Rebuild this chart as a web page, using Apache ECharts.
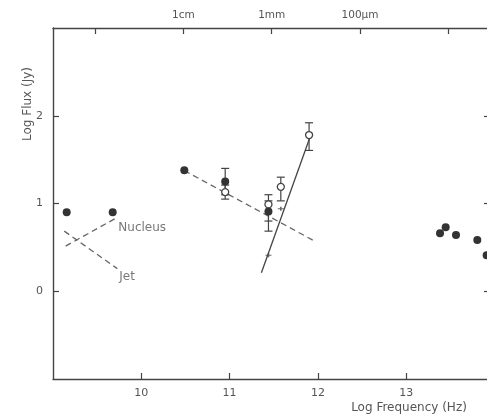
<!DOCTYPE html>
<html><head><meta charset="utf-8">
<script src="https://cdn.jsdelivr.net/npm/echarts@6/dist/echarts.min.js"></script>
<style>html,body{margin:0;padding:0;background:#fff}#c{width:487px;height:417px}</style>
</head><body><div id="c"></div>
<script>
// ---- data ----
const xTickValues = [10, 11, 12, 13];
const yTickValues = [0, 1, 2];
const wavelengthTickFreqs = [9.477, 10.477, 11.477, 12.477, 13.477];
const wavelengthLabelFreqs = [10.477, 11.477, 12.477];
const wavelengthLabels = ['1cm', '1mm', '100\u03bcm'];

const filledPoints = [[9.155, 0.90], [9.676, 0.90], [10.487, 1.378], [10.95, 1.25], [11.44, 0.91],
  [13.383, 0.66], [13.447, 0.73], [13.564, 0.64], [13.805, 0.583], [13.911, 0.41]];
const openPoints = [[10.95, 1.13], [11.44, 0.99], [11.58, 1.19], [11.90, 1.78]];
const smallPoints = [[11.58, 0.94], [11.44, 0.41]];
// [x, low, high]
const filledErrors = [[10.95, 1.10, 1.40], [11.44, 0.685, 1.03]];
const openErrors = [[10.95, 1.05, 1.21], [11.44, 0.80, 1.10], [11.58, 1.03, 1.30], [11.90, 1.605, 1.92]];

const nucleusLine = [[9.143, 0.515], [9.72, 0.837]];
const jetLine = [[9.128, 0.685], [9.728, 0.258]];
const dashedFit = [[10.487, 1.375], [11.975, 0.565]];
const solidFit = [[11.36, 0.21], [11.905, 1.74]];

const lineLabels = [{name: 'Nucleus', value: [9.74, 0.727]}, {name: 'Jet', value: [9.75, 0.163]}];

const xMin = 9, xMax = 13.915, yMin = -1, yMax = 3;

// ---- chart ----
const axisColor = '#444';
const textColor = '#555';
const font = 'DejaVu Sans';

function errRender(params, api) {
  const x = api.value(0), lo = api.value(1), hi = api.value(2);
  const a = api.coord([x, lo]), b = api.coord([x, hi]);
  const w = 4;
  const st = {stroke: '#444', lineWidth: 1.2};
  return {type: 'group', children: [
    {type: 'line', shape: {x1: a[0], y1: a[1], x2: b[0], y2: b[1]}, style: st},
    {type: 'line', shape: {x1: a[0] - w, y1: a[1], x2: a[0] + w, y2: a[1]}, style: st},
    {type: 'line', shape: {x1: b[0] - w, y1: b[1], x2: b[0] + w, y2: b[1]}, style: st}
  ]};
}

const chart = echarts.init(document.getElementById('c'), null, {renderer: 'canvas'});
const tickStyle = {show: true, inside: true, length: 6, lineStyle: {color: axisColor, width: 1.2}};
const lineStyleAxis = {show: true, onZero: false, lineStyle: {color: axisColor, width: 1.4}};

chart.setOption({
  animation: false,
  backgroundColor: '#fff',
  grid: {left: 53, top: 28, width: 434, height: 351},
  xAxis: [
    {type: 'value', position: 'bottom', min: xMin, max: xMax,
      axisLine: lineStyleAxis,
      axisTick: Object.assign({}, tickStyle, {customValues: xTickValues}),
      axisLabel: {customValues: xTickValues, color: textColor, fontFamily: font, fontSize: 11, margin: 9},
      splitLine: {show: false}},
    {type: 'value', position: 'top', min: xMin, max: xMax,
      axisLine: lineStyleAxis,
      axisTick: Object.assign({}, tickStyle, {customValues: wavelengthTickFreqs}),
      axisLabel: {customValues: wavelengthLabelFreqs, color: textColor, fontFamily: font, fontSize: 10.5, margin: 7,
        formatter: function (v) {
          for (let i = 0; i < wavelengthLabelFreqs.length; i++) {
            if (Math.abs(wavelengthLabelFreqs[i] - v) < 0.01) return wavelengthLabels[i];
          }
          return '';
        }},
      splitLine: {show: false}}
  ],
  yAxis: [
    {type: 'value', position: 'left', min: yMin, max: yMax, interval: 1,
      axisLine: lineStyleAxis,
      axisTick: Object.assign({}, tickStyle, {customValues: yTickValues}),
      axisLabel: {customValues: yTickValues, color: textColor, fontFamily: font, fontSize: 11, margin: 10},
      splitLine: {show: false}},
    {type: 'value', position: 'right', min: yMin, max: yMax, interval: 1,
      axisLine: {show: false},
      axisTick: Object.assign({}, tickStyle, {length: 3, customValues: yTickValues}),
      axisLabel: {show: false},
      splitLine: {show: false}}
  ],
  graphic: [
    {type: 'text', x: 409, y: 408, style: {text: 'Log Frequency (Hz)', fill: textColor, font: '12px "DejaVu Sans"', textAlign: 'center', textVerticalAlign: 'middle'}},
    {type: 'text', x: 28, y: 104, rotation: Math.PI / 2, style: {text: 'Log Flux (Jy)', fill: textColor, font: '12px "DejaVu Sans"', textAlign: 'center', textVerticalAlign: 'middle'}}
  ],
  series: [
    {type: 'line', data: nucleusLine, symbol: 'none', lineStyle: {color: '#666', width: 1.3, type: [6, 4]}, z: 2},
    {type: 'line', data: jetLine, symbol: 'none', lineStyle: {color: '#666', width: 1.3, type: [6, 4]}, z: 2},
    {type: 'line', data: dashedFit, symbol: 'none', lineStyle: {color: '#666', width: 1.3, type: [6, 4]}, z: 2},
    {type: 'line', data: solidFit, symbol: 'none', lineStyle: {color: '#444', width: 1.3}, z: 2},
    {type: 'custom', data: filledErrors, renderItem: errRender, z: 3},
    {type: 'custom', data: openErrors, renderItem: errRender, z: 3},
    {type: 'scatter', data: filledPoints, symbol: 'circle', symbolSize: 8,
      itemStyle: {color: '#333', opacity: 1}, z: 5},
    {type: 'scatter', data: openPoints, symbol: 'circle', symbolSize: 7,
      itemStyle: {color: '#fff', borderColor: '#444', borderWidth: 1.3, opacity: 1}, z: 4},
    {type: 'scatter', data: smallPoints, symbol: 'path://M-1,0L1,0M0,-0.4L0,0.4', symbolSize: [6, 4],
      itemStyle: {color: 'none', borderColor: '#444', borderWidth: 1.3}, z: 5},
    {type: 'scatter', data: lineLabels, symbolSize: 0,
      label: {show: true, position: 'right', distance: 0, formatter: '{b}', color: textColor, fontFamily: font, fontSize: 12}, z: 5}
  ]
});
</script></body></html>
